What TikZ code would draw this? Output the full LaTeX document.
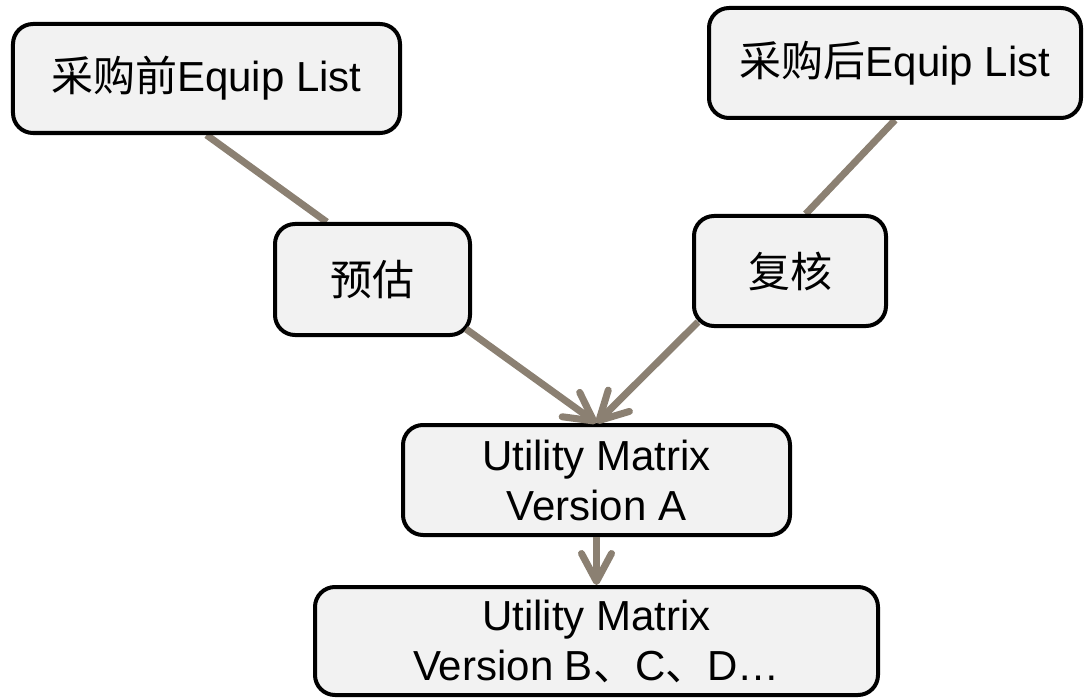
\documentclass[tikz,border=0pt]{standalone}
\usepackage{fontspec}
\setmainfont{Liberation Sans}
\newfontfamily\cjk{Noto Sans CJK SC}
\usetikzlibrary{arrows.meta,backgrounds,calc}
\definecolor{connc}{RGB}{139,128,114}
\definecolor{boxfill}{RGB}{242,242,242}
\begin{document}
\begin{tikzpicture}[x=1bp,y=-1bp,
  flowbox/.style={draw=black,line width=4bp,fill=boxfill,rounded corners=20bp,align=center,
    font=\fontsize{42bp}{50bp}\selectfont,inner sep=0pt},
  connline/.style={draw=connc,line width=7bp},
  connarrow/.style={connline,-{Straight Barb[length=28bp,width=30bp,round]}}]
\useasboundingbox (0,0) rectangle (1085,698);
\node[flowbox,minimum width=387bp,minimum height=109bp] (b1) at (206.5,78.5) {{\cjk 采购前}Equip List};
\node[flowbox,minimum width=372bp,minimum height=110bp] (b2) at (895,63) {{\cjk 采购后}Equip List};
\node[flowbox,minimum width=195bp,minimum height=111bp] (yg) at (372.5,279.5) {\cjk 预估};
\node[flowbox,minimum width=192bp,minimum height=110bp] (fh) at (790,271) {\cjk 复核};
\node[flowbox,minimum width=387bp,minimum height=110bp] (ua) at (596.5,480) {Utility Matrix\\Version A};
\node[flowbox,minimum width=563bp,minimum height=108bp] (ub) at (596.5,641) {Utility Matrix\\Version B{\cjk 、}C{\cjk 、}D…};
\begin{scope}[on background layer]
\draw[connline] (b1.south) -- ($(yg.north west)!0.27!(yg.north east)$);
\draw[connline] (b2.south) -- ($(fh.north west)!0.58!(fh.north east)$);
\end{scope}
\draw[connarrow] ($(yg.south east)+(-6,-8)$) -- (ua.north);
\draw[connarrow] ($(fh.south west)+(6,-6)$) -- (ua.north);
\draw[connarrow] (ua.south) -- (ub.north);
\end{tikzpicture}
\end{document}
